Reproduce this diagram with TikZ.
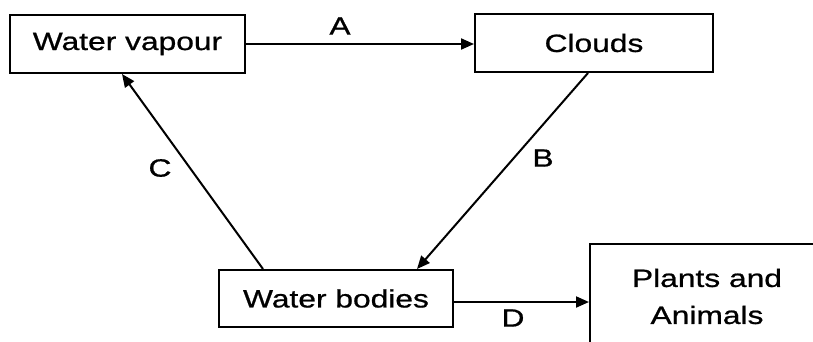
\documentclass[tikz,border=0pt]{standalone}
\usepackage{fontspec}
\setmainfont{Liberation Sans}[FakeStretch=1.27,FakeBold=0.8]
\usetikzlibrary{arrows.meta}
\begin{document}
\begin{tikzpicture}[x=1pt,y=-1pt,
  box/.style={draw, line width=2pt, inner sep=0pt, align=center,
    font=\fontsize{25}{37}\selectfont},
  lbl/.style={font=\fontsize{25}{30}\selectfont, inner sep=0pt},
  conn/.style={line width=2pt, -{Triangle[length=13pt,width=11pt]}}]
\clip (0,0) rectangle (813,341);
\fill[white] (0,0) rectangle (813,341);
\node[box, minimum width=235pt, minimum height=58pt] (wv) at (127.5,44) {Water vapour};
\node[box, minimum width=238pt, minimum height=58pt] (clouds) at (594,43) {Clouds};
\node[box, minimum width=234pt, minimum height=57pt] (wb) at (336,298.5) {Water bodies};
\node[box, minimum width=234pt, minimum height=105pt] (plants) at (707,296.5) {Plants and\\Animals};
\draw[conn] (wv.east) -- (wv.east -| clouds.west);
\draw[conn] ([xshift=-6pt]clouds.south) -- ([xshift=81pt]wb.north);
\draw[conn] ([xshift=-73pt]wb.north) -- ([xshift=-5.5pt]wv.south);
\draw[conn] ([yshift=-3.5pt]wb.east) -- ([yshift=-3.5pt]wb.east -| plants.west);
\node[lbl] (la) at (340,26) {A};
\node[lbl] (lb) at (543,158) {B};
\node[lbl] (lc) at (160,168) {C};
\node[lbl] (ld) at (513,318) {D};
\end{tikzpicture}
\end{document}
